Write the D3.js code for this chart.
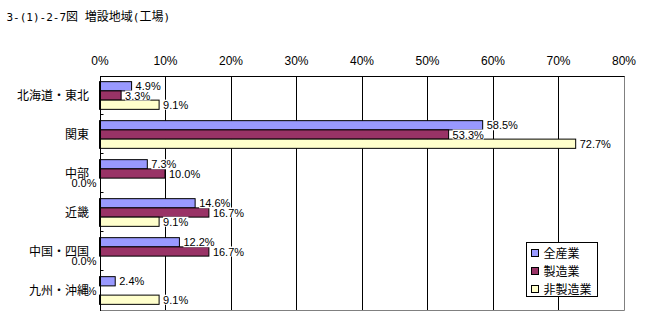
<!DOCTYPE html>
<html>
<head>
<meta charset="utf-8">
<script src="https://cdn.jsdelivr.net/npm/d3@7"></script>
<style>
  html, body { margin: 0; padding: 0; background: #fff; }
  svg { display: block; }
  text { font-family: "Liberation Sans", "Noto Sans CJK JP", sans-serif; fill: #000; }
</style>
</head>
<body>
<svg id="chart" width="649" height="325"></svg>
<script>
// Regions (categories), top to bottom
const regions = ["北海道・東北", "関東", "中部", "近畿", "中国・四国", "九州・沖縄"];
// Series names and colours
const seriesNames = ["全産業", "製造業", "非製造業"];
const seriesColors = ["#9999FF", "#993366", "#FFFFCC"];
// Share of plants by region (%)
const allIndustries = [4.9, 58.5, 7.3, 14.6, 12.2, 2.4];
const manufacturing = [3.3, 53.3, 10.0, 16.7, 16.7, 0.0];
const nonManufacturing = [9.1, 72.7, 0.0, 9.1, 0.0, 9.1];
// Value axis ticks (%)
const xTicks = [0, 10, 20, 30, 40, 50, 60, 70, 80];

const seriesValues = [allIndustries, manufacturing, nonManufacturing];
const rows = [];
regions.forEach((r, i) => {
  seriesNames.forEach((s, j) => rows.push({ region: r, series: s, value: seriesValues[j][i], j }));
});

const svg = d3.select("#chart");
const plotLeft = 99.5, plotRight = 623.5, plotTop = 76, plotBottom = 310;

const x = d3.scaleLinear().domain([0, 80]).range([plotLeft, plotRight]);
const y0 = d3.scaleBand().domain(regions).range([plotTop, plotBottom]).paddingInner(0.29).paddingOuter(0.145);
const y1 = d3.scaleBand().domain(seriesNames).range([0, y0.bandwidth()]);
const crisp = v => Math.round(v) + 0.5;

// Title: half-width parts in a monospace face, kanji at full width
const title = svg.append("text").attr("x", 6.5).attr("y", 20.5).attr("xml:space", "preserve");
[["3-(1)-2-7", true], ["図", false], [" ", true], ["増設地域", false], ["(", true], ["工場", false], [")", true]]
  .forEach(([s, mono]) => {
    title.append("tspan")
      .attr("font-family", mono ? "DejaVu Sans Mono, monospace" : "Noto Sans CJK JP, sans-serif")
      .attr("font-size", mono ? 11 : 12)
      .text(s);
  });

// Vertical gridlines
svg.append("g").selectAll("line").data(xTicks.slice(1, -1)).join("line")
  .attr("x1", d => crisp(x(d))).attr("x2", d => crisp(x(d)))
  .attr("y1", plotTop).attr("y2", plotBottom)
  .attr("stroke", "#000").attr("stroke-width", 1);

// Plot area border (right and bottom, grey)
svg.append("path")
  .attr("d", `M${crisp(x(0))},${plotBottom + 0.5}H${crisp(x(80))}V${plotTop}`)
  .attr("fill", "none").attr("stroke", "#808080");

// Top value axis
const xAxis = d3.axisTop(x).tickValues(xTicks).tickSize(0).tickPadding(12)
  .tickFormat(d => d + "%");
const gx = svg.append("g").attr("transform", `translate(0,${plotTop + 0.5})`).call(xAxis);
gx.select(".domain").attr("stroke", "#000").attr("d", `M${crisp(x(0))},0H${crisp(x(80))}`);
gx.selectAll("text").attr("font-size", 12).attr("font-family", "Liberation Sans, sans-serif");

// Bars
const groups = svg.append("g").selectAll("g").data(regions).join("g")
  .attr("transform", d => `translate(0,${y0(d)})`);
groups.selectAll("rect").data(d => rows.filter(r => r.region === d)).join("rect")
  .attr("x", x(0))
  .attr("y", d => y1(d.series))
  .attr("width", d => x(d.value) - x(0))
  .attr("height", y1.bandwidth())
  .attr("fill", d => seriesColors[d.j])
  .attr("stroke", "#000").attr("stroke-width", 1)
  .attr("display", d => d.value === 0 ? "none" : null);

// Category axis (left) with inward ticks between categories
const gy = svg.append("g");
gy.append("line").attr("x1", crisp(x(0))).attr("x2", crisp(x(0)))
  .attr("y1", plotTop).attr("y2", plotBottom + 1).attr("stroke", "#000");
const step = y0.step();
gy.selectAll("line.tk").data(regions.slice(1)).join("line").attr("class", "tk")
  .attr("x1", crisp(x(0))).attr("x2", crisp(x(0)) + 3)
  .attr("y1", (d, i) => crisp(plotTop + step * (i + 1) - 1))
  .attr("y2", (d, i) => crisp(plotTop + step * (i + 1) - 1))
  .attr("stroke", "#000");

// Value labels with white backing
const labels = svg.append("g");
rows.forEach(r => {
  const cy = y0(r.region) + y1(r.series) + y1.bandwidth() / 2;
  const g = labels.append("g");
  const t = g.append("text")
    .attr("x", r.value === 0 ? x(0) - 3 : x(r.value) + 4)
    .attr("y", cy + 4)
    .attr("text-anchor", r.value === 0 ? "end" : "start")
    .attr("font-size", 11)
    .text(r.value.toFixed(1) + "%");
  const b = t.node().getBBox();
  g.insert("rect", "text").attr("x", b.x).attr("y", b.y + 1)
    .attr("width", b.width).attr("height", b.height - 2).attr("fill", "#fff");
});

// Category labels
const cats = svg.append("g");
regions.forEach(r => {
  const g = cats.append("g");
  const t = g.append("text").attr("x", 89).attr("y", y0(r) + y0.bandwidth() / 2 + 4.5)
    .attr("text-anchor", "end").attr("font-size", 12).text(r);
  const b = t.node().getBBox();
  g.insert("rect", "text").attr("x", b.x).attr("y", b.y + 2)
    .attr("width", b.width).attr("height", b.height - 4).attr("fill", "#fff");
});

// Legend
const lg = svg.append("g").attr("transform", "translate(526.5,242.5)");
lg.append("rect").attr("width", 71).attr("height", 54)
  .attr("fill", "#fff").attr("stroke", "#000");
const items = lg.selectAll("g").data(seriesNames).join("g")
  .attr("transform", (d, i) => `translate(0,${11 + i * 18})`);
items.append("rect").attr("x", 5).attr("y", -4).attr("width", 7).attr("height", 7)
  .attr("fill", (d, i) => seriesColors[i]).attr("stroke", "#000");
items.append("text").attr("x", 17).attr("y", 4.5).attr("font-size", 12).text(d => d);
</script>
</body>
</html>
